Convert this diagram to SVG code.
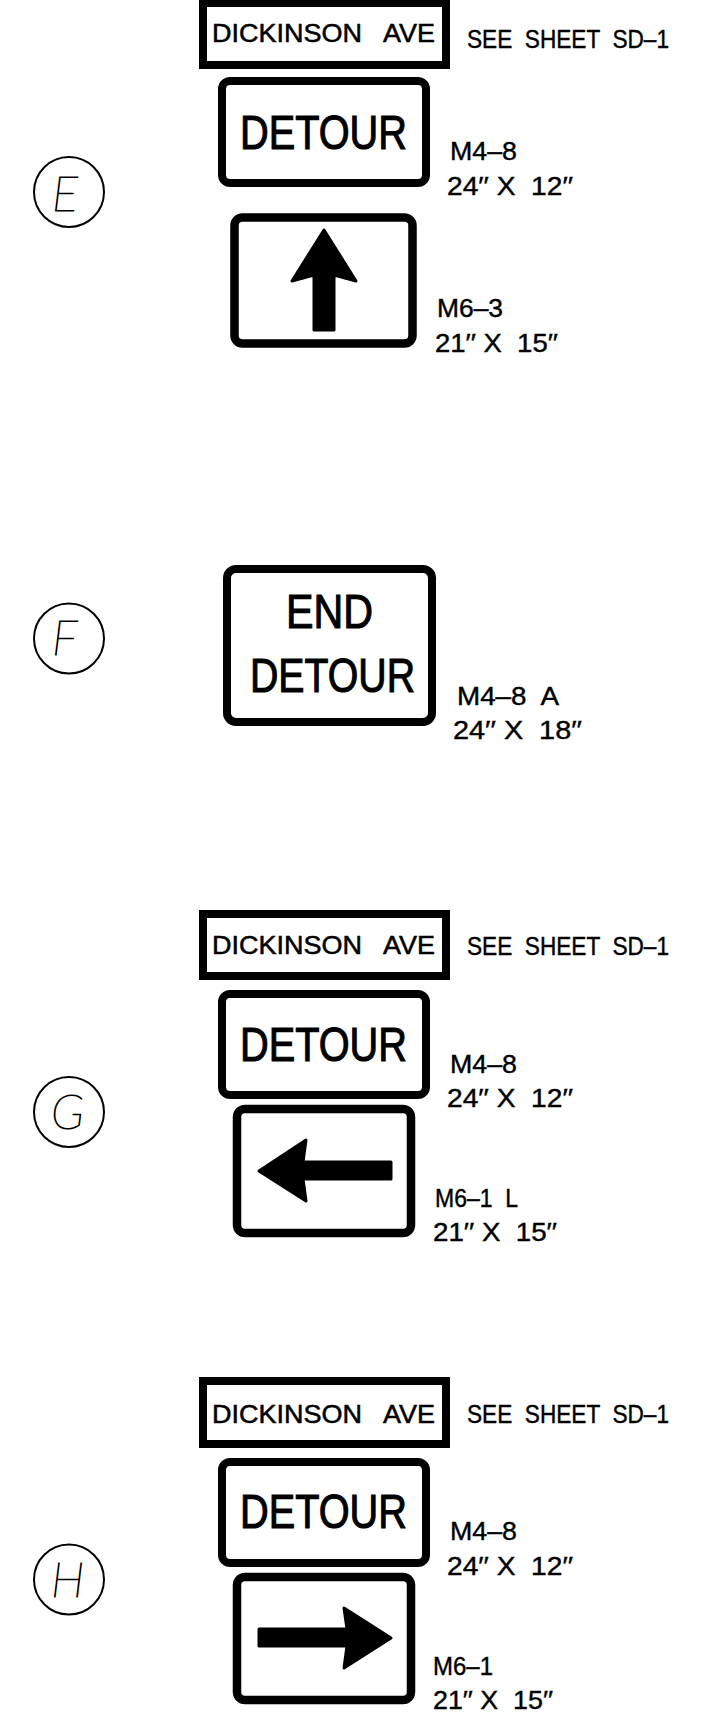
<svg xmlns="http://www.w3.org/2000/svg" width="713" height="1732" viewBox="0 0 713 1732">
<style>
.bg{fill:#fff}
.plate{fill:#fff;stroke:#000;stroke-width:8}
.sign{fill:#fff;stroke:#000;stroke-width:8.5}
.tag{fill:none;stroke:#000;stroke-width:2}
.arrow{fill:#000;stroke:#000;stroke-width:3;stroke-linejoin:round}
.t{font-family:"Liberation Sans",Arial,sans-serif;fill:#000;stroke:#000;white-space:pre}
.name{font-size:25px;stroke-width:0.5}
.big{font-size:49px;stroke-width:1.1}
.lbl{font-size:25px;stroke-width:0.4}
.id{font-family:"Lato","Open Sans","DejaVu Sans",sans-serif;font-weight:100;font-style:italic;font-size:48px;fill:#000;stroke:#000;stroke-width:1}
</style>
<rect class="bg" x="0" y="0" width="713" height="1732"/>

<g id="E">
  <g id="E-tag"><circle class="tag" cx="69" cy="192" r="35"/><text class="id" x="52" y="211">E</text></g>
  <g id="E-street">
    <rect class="plate" x="203" y="3" width="243" height="62"/>
    <text class="t name" x="212" y="42" textLength="223" lengthAdjust="spacingAndGlyphs">DICKINSON   AVE</text>
  </g>
  <text class="t lbl" x="467" y="48" textLength="202" lengthAdjust="spacingAndGlyphs">SEE  SHEET  SD–1</text>
  <g id="E-detour">
    <rect class="plate" x="222" y="81" width="204" height="102" rx="8"/>
    <text class="t big" x="240" y="149" textLength="167" lengthAdjust="spacingAndGlyphs">DETOUR</text>
  </g>
  <text class="t lbl" x="450" y="160" textLength="67" lengthAdjust="spacingAndGlyphs">M4–8</text>
  <text class="t lbl" x="447" y="195" textLength="126" lengthAdjust="spacingAndGlyphs">24′′ X  12′′</text>
  <g id="E-arrow">
    <rect class="sign" x="234.5" y="217.5" width="178" height="126" rx="8"/>
    <polygon class="arrow" points="324,230 356,281 334,275 334,330 314,330 314,275 292,281"/>
  </g>
  <text class="t lbl" x="437" y="317" textLength="66" lengthAdjust="spacingAndGlyphs">M6–3</text>
  <text class="t lbl" x="435" y="352" textLength="123" lengthAdjust="spacingAndGlyphs">21′′ X  15′′</text>
</g>

<g id="F">
  <g id="F-tag"><circle class="tag" cx="69" cy="638.5" r="35"/><text class="id" x="52" y="655">F</text></g>
  <g id="F-enddetour">
    <rect class="plate" x="227" y="569" width="205" height="153" rx="9"/>
    <text class="t big" x="286" y="628" textLength="87" lengthAdjust="spacingAndGlyphs">END</text>
    <text class="t big" x="250" y="692" textLength="165" lengthAdjust="spacingAndGlyphs">DETOUR</text>
  </g>
  <text class="t lbl" x="457" y="705" textLength="102" lengthAdjust="spacingAndGlyphs">M4–8  A</text>
  <text class="t lbl" x="453" y="739" textLength="129" lengthAdjust="spacingAndGlyphs">24′′ X  18′′</text>
</g>

<g id="G">
  <g id="G-tag"><circle class="tag" cx="69" cy="1112" r="35"/><text class="id" x="51" y="1129">G</text></g>
  <g id="G-street">
    <rect class="plate" x="203" y="914" width="243" height="62"/>
    <text class="t name" x="212" y="954" textLength="223" lengthAdjust="spacingAndGlyphs">DICKINSON   AVE</text>
  </g>
  <text class="t lbl" x="467" y="955" textLength="202" lengthAdjust="spacingAndGlyphs">SEE  SHEET  SD–1</text>
  <g id="G-detour">
    <rect class="plate" x="222" y="994" width="204" height="101" rx="8"/>
    <text class="t big" x="240" y="1061" textLength="167" lengthAdjust="spacingAndGlyphs">DETOUR</text>
  </g>
  <text class="t lbl" x="450" y="1073" textLength="67" lengthAdjust="spacingAndGlyphs">M4–8</text>
  <text class="t lbl" x="447" y="1107" textLength="126" lengthAdjust="spacingAndGlyphs">24′′ X  12′′</text>
  <g id="G-arrow">
    <rect class="sign" x="237" y="1109" width="174" height="124" rx="8"/>
    <polygon class="arrow" points="259,1171 306,1140 303,1162 391,1162 391,1179 303,1179 306,1201"/>
  </g>
  <text class="t lbl" x="435" y="1207" textLength="83" lengthAdjust="spacingAndGlyphs">M6–1  L</text>
  <text class="t lbl" x="433" y="1241" textLength="124" lengthAdjust="spacingAndGlyphs">21′′ X  15′′</text>
</g>

<g id="H">
  <g id="H-tag"><circle class="tag" cx="69" cy="1579.5" r="35"/><text class="id" x="51" y="1597">H</text></g>
  <g id="H-street">
    <rect class="plate" x="203" y="1381" width="243" height="63"/>
    <text class="t name" x="212" y="1423" textLength="223" lengthAdjust="spacingAndGlyphs">DICKINSON   AVE</text>
  </g>
  <text class="t lbl" x="467" y="1423" textLength="202" lengthAdjust="spacingAndGlyphs">SEE  SHEET  SD–1</text>
  <g id="H-detour">
    <rect class="plate" x="222" y="1462" width="204" height="101" rx="8"/>
    <text class="t big" x="240" y="1528" textLength="167" lengthAdjust="spacingAndGlyphs">DETOUR</text>
  </g>
  <text class="t lbl" x="450" y="1540" textLength="67" lengthAdjust="spacingAndGlyphs">M4–8</text>
  <text class="t lbl" x="447" y="1575" textLength="126" lengthAdjust="spacingAndGlyphs">24′′ X  12′′</text>
  <g id="H-arrow">
    <rect class="sign" x="237" y="1577" width="174" height="123" rx="8"/>
    <polygon class="arrow" points="391,1638 344,1608 347,1629 259,1629 259,1646 347,1646 344,1668"/>
  </g>
  <text class="t lbl" x="433" y="1675" textLength="60" lengthAdjust="spacingAndGlyphs">M6–1</text>
  <text class="t lbl" x="433" y="1709" textLength="120" lengthAdjust="spacingAndGlyphs">21′′ X  15′′</text>
</g>
</svg>
